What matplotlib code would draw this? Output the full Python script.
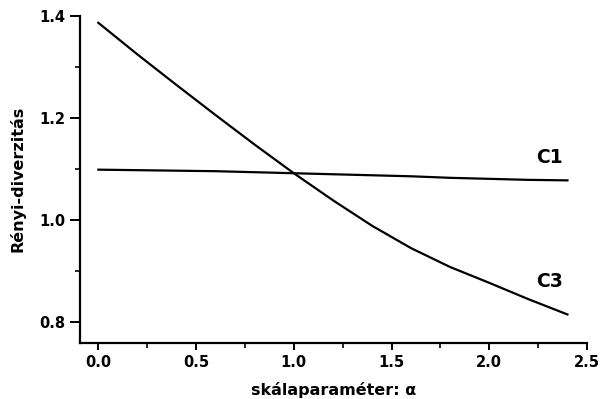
import matplotlib
matplotlib.use("Agg")
import matplotlib.pyplot as plt
from matplotlib.ticker import MultipleLocator, FormatStrFormatter

# alpha values (scale parameter)
alpha = [0.0, 0.2, 0.4, 0.6, 0.8, 1.0, 1.2, 1.4, 1.6, 1.8, 2.0, 2.2, 2.4]
# Renyi diversity of the two communities
c1 = [1.098, 1.097, 1.096, 1.095, 1.093, 1.091, 1.089, 1.087, 1.085, 1.082, 1.080, 1.078, 1.077]
c3 = [1.386, 1.324, 1.264, 1.205, 1.147, 1.091, 1.038, 0.988, 0.944, 0.907, 0.876, 0.844, 0.814]

plt.rcParams["font.family"] = ["DejaVu Sans"]
plt.rcParams["font.weight"] = "bold"
plt.rcParams["axes.labelweight"] = "bold"

fig = plt.figure(figsize=(6.05, 3.99), dpi=100)
ax = fig.add_axes([80 / 605, 1 - 343 / 399, (587 - 80) / 605, (343 - 15.7) / 399])

ax.plot(alpha, c1, color="black", lw=1.6)
ax.plot(alpha, c3, color="black", lw=1.6)

ax.text(2.31, 1.122, "C1", fontsize=13.5, ha="center", va="center")
ax.text(2.31, 0.878, "C3", fontsize=13.5, ha="center", va="center")

ax.set_xlim(-0.094, 2.5)
ax.set_ylim(0.758, 1.4)
ax.xaxis.set_major_locator(MultipleLocator(0.5))
ax.xaxis.set_minor_locator(MultipleLocator(0.25))
ax.yaxis.set_major_locator(MultipleLocator(0.2))
ax.yaxis.set_minor_locator(MultipleLocator(0.1))
ax.xaxis.set_major_formatter(FormatStrFormatter("%.1f"))
ax.yaxis.set_major_formatter(FormatStrFormatter("%.1f"))

for s in ["top", "right"]:
    ax.spines[s].set_visible(False)
for s in ["left", "bottom"]:
    ax.spines[s].set_linewidth(1.6)

ax.tick_params(which="major", direction="out", width=1.4, labelsize=10.5)
ax.tick_params(axis="y", which="major", length=7)
ax.tick_params(axis="x", which="major", length=5)
ax.tick_params(which="minor", direction="out", length=3.5, width=1.2)

ax.set_xlabel("skálaparaméter: α", fontsize=11.5, labelpad=9)
ax.set_ylabel("Rényi-diverzitás", fontsize=11.5, labelpad=10)

fig.savefig("out.png", dpi=100)
